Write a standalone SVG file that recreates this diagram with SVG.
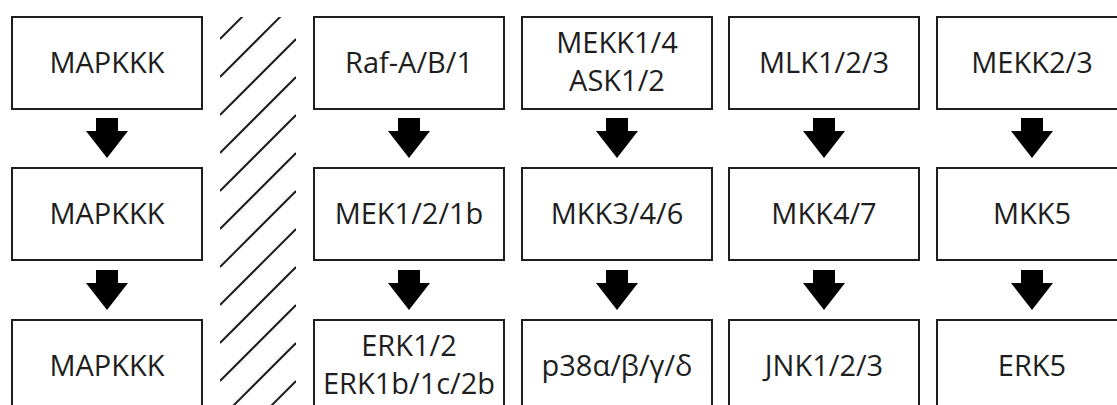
<svg xmlns="http://www.w3.org/2000/svg" width="1117" height="405" viewBox="0 0 1117 405">
  <style>
    .box { fill: #ffffff; stroke: #1e1e1e; stroke-width: 2; }
    .lbl { font-family: "Open Sans", "Noto Sans", sans-serif; font-size: 29px; fill: #1e1e1e; text-anchor: middle; }
    .arrow { fill: #000000; }
    .hatch line { stroke: #1e1e1e; stroke-width: 2; }
  </style>
  <defs>
    <path id="arr" class="arrow" d="M -11 0 H 11 V 13 H 21 L 0 40 L -21 13 H -11 Z"/>
    <clipPath id="hclip"><rect x="220" y="17" width="76" height="400"/></clipPath>
  </defs>
  <rect width="1117" height="405" fill="#ffffff"/>

  <g id="hatch" class="hatch" clip-path="url(#hclip)">
    <line x1="220" y1="39" x2="296" y2="-37"/>
    <line x1="220" y1="77" x2="296" y2="1"/>
    <line x1="220" y1="115" x2="296" y2="39"/>
    <line x1="220" y1="153" x2="296" y2="77"/>
    <line x1="220" y1="191" x2="296" y2="115"/>
    <line x1="220" y1="229" x2="296" y2="153"/>
    <line x1="220" y1="267" x2="296" y2="191"/>
    <line x1="220" y1="305" x2="296" y2="229"/>
    <line x1="220" y1="343" x2="296" y2="267"/>
    <line x1="220" y1="381" x2="296" y2="305"/>
    <line x1="220" y1="419" x2="296" y2="343"/>
    <line x1="220" y1="457" x2="296" y2="381"/>
  </g>

  <g id="connectors">
    <use href="#arr" x="107" y="118"/>
    <use href="#arr" x="107" y="270"/>
    <use href="#arr" x="409" y="118"/>
    <use href="#arr" x="409" y="270"/>
    <use href="#arr" x="617" y="118"/>
    <use href="#arr" x="617" y="270"/>
    <use href="#arr" x="824" y="118"/>
    <use href="#arr" x="824" y="270"/>
    <use href="#arr" x="1032" y="118"/>
    <use href="#arr" x="1032" y="270"/>
  </g>

  <g id="n-mapkkk-1"><rect class="box" x="12" y="17" width="190" height="92"/><text class="lbl" x="107" y="73">MAPKKK</text></g>
  <g id="n-mapkkk-2"><rect class="box" x="12" y="168" width="190" height="92"/><text class="lbl" x="107" y="224">MAPKKK</text></g>
  <g id="n-mapkkk-3"><rect class="box" x="12" y="320" width="190" height="92"/><text class="lbl" x="107" y="376">MAPKKK</text></g>

  <g id="n-raf"><rect class="box" x="314" y="17" width="190" height="92"/><text class="lbl" x="409" y="73">Raf-A/B/1</text></g>
  <g id="n-mek"><rect class="box" x="314" y="168" width="190" height="92"/><text class="lbl" x="409" y="224">MEK1/2/1b</text></g>
  <g id="n-erk12"><rect class="box" x="314" y="320" width="190" height="92"/><text class="lbl" x="409" y="356">ERK1/2</text><text class="lbl" x="409" y="394">ERK1b/1c/2b</text></g>

  <g id="n-mekk14"><rect class="box" x="522" y="17" width="190" height="92"/><text class="lbl" x="617" y="53">MEKK1/4</text><text class="lbl" x="617" y="91">ASK1/2</text></g>
  <g id="n-mkk346"><rect class="box" x="522" y="168" width="190" height="92"/><text class="lbl" x="617" y="224">MKK3/4/6</text></g>
  <g id="n-p38"><rect class="box" x="522" y="320" width="190" height="92"/><text class="lbl" x="617" y="376">p38α/β/γ/δ</text></g>

  <g id="n-mlk"><rect class="box" x="729" y="17" width="190" height="92"/><text class="lbl" x="824" y="73">MLK1/2/3</text></g>
  <g id="n-mkk47"><rect class="box" x="729" y="168" width="190" height="92"/><text class="lbl" x="824" y="224">MKK4/7</text></g>
  <g id="n-jnk"><rect class="box" x="729" y="320" width="190" height="92"/><text class="lbl" x="824" y="376">JNK1/2/3</text></g>

  <g id="n-mekk23"><rect class="box" x="937" y="17" width="190" height="92"/><text class="lbl" x="1032" y="73">MEKK2/3</text></g>
  <g id="n-mkk5"><rect class="box" x="937" y="168" width="190" height="92"/><text class="lbl" x="1032" y="224">MKK5</text></g>
  <g id="n-erk5"><rect class="box" x="937" y="320" width="190" height="92"/><text class="lbl" x="1032" y="376">ERK5</text></g>
</svg>
